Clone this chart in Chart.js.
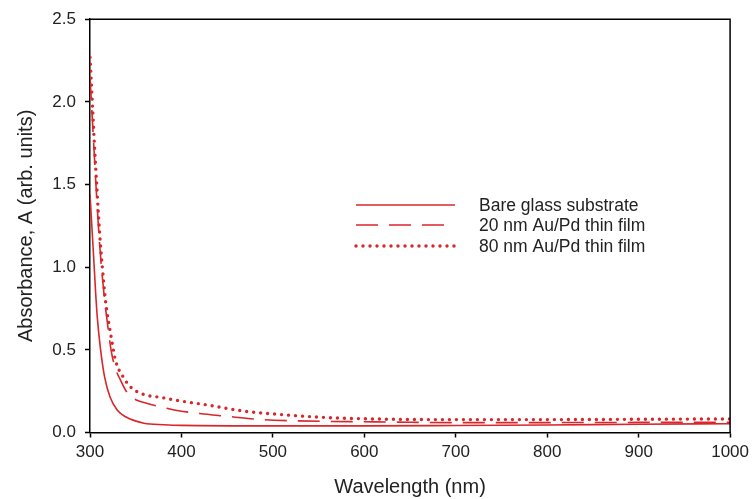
<!DOCTYPE html>
<html>
<head>
<meta charset="utf-8">
<script src="https://cdn.jsdelivr.net/npm/chart.js@4/dist/chart.umd.min.js"></script>
<style>
    html, body { margin: 0; padding: 0; background: #fff; }
    #wrap { width: 754px; height: 499px; position: relative; }
</style>
</head>
<body>
<div id="wrap"><canvas id="absChart"></canvas></div>
<script>
// Datos (longitud de onda en nm, absorbancia)
const seriesNames = ["Bare glass substrate", "20 nm Au/Pd thin film", "80 nm Au/Pd thin film"];

const bareX = [300, 302, 304, 306, 308, 311.7, 316, 321.9, 329.9, 339, 359, 381, 400, 500, 600, 700, 800, 900, 1000];
const bareY = [1.44, 1.25, 1.06, 0.86, 0.695, 0.495, 0.335, 0.215, 0.135, 0.095, 0.056, 0.047, 0.043, 0.040, 0.040, 0.042, 0.045, 0.05, 0.053];

const film20X = [300, 302, 304, 307, 310, 313, 316, 320, 323, 327, 333.5, 339, 345, 351.5, 360, 370, 380, 393.6, 420, 448, 485, 521, 560, 594, 650, 700, 800, 900, 1000];
const film20Y = [2.15, 1.95, 1.75, 1.45, 1.18, 0.97, 0.80, 0.62, 0.50, 0.40, 0.315, 0.255, 0.215, 0.195, 0.18, 0.165, 0.152, 0.135, 0.115, 0.099, 0.079, 0.071, 0.067, 0.065, 0.062, 0.06, 0.06, 0.061, 0.062];

const film80X = [300, 302.5, 304.7, 307.3, 310.6, 313.5, 317, 322.6, 328, 336.4, 344.5, 352, 362, 378, 394, 430, 466, 503, 557.6, 630, 700, 800, 900, 1000];
const film80Y = [2.27, 2.0, 1.755, 1.50, 1.20, 1.0, 0.795, 0.595, 0.435, 0.335, 0.275, 0.245, 0.225, 0.212, 0.195, 0.165, 0.131, 0.111, 0.091, 0.08, 0.078, 0.078, 0.08, 0.082];

const xTicks = [300, 400, 500, 600, 700, 800, 900, 1000];
const yTicks = [0.0, 0.5, 1.0, 1.5, 2.0, 2.5];

const rojo = "#d8262b";
const fuente = "'Liberation Sans', Arial, sans-serif";

function puntos(xs, ys) {
    return xs.map((x, i) => ({ x, y: ys[i] }));
}

// Marco superior/derecho y leyenda dibujada a mano
const marcoLeyenda = {
    id: "marcoLeyenda",
    afterDatasetsDraw(chart) {
        const { ctx, chartArea } = chart;
        ctx.save();
        ctx.strokeStyle = "#000";
        ctx.lineWidth = 1.5;
        ctx.beginPath();
        ctx.moveTo(chartArea.left, chartArea.top);
        ctx.lineTo(chartArea.right, chartArea.top);
        ctx.lineTo(chartArea.right, chartArea.bottom);
        ctx.stroke();

        const filas = [205, 225, 246];
        const finLinea = [455, 444, 455];
        chart.data.datasets.forEach((ds, i) => {
            const y = filas[i];
            ctx.strokeStyle = ds.borderColor;
            ctx.lineWidth = ds.borderWidth;
            ctx.lineCap = ds.borderCapStyle || "butt";
            ctx.setLineDash(ds.borderDash || []);
            ctx.beginPath();
            ctx.moveTo(356, y);
            ctx.lineTo(finLinea[i], y);
            ctx.stroke();
            ctx.setLineDash([]);
            ctx.fillStyle = "#222";
            ctx.font = "17.5px " + fuente;
            ctx.textBaseline = "middle";
            ctx.fillText(ds.label, 479, y + 1);
        });
        ctx.restore();
    }
};

new Chart(document.querySelector("#absChart"), {
    type: "line",
    data: {
        datasets: [
            {
                label: seriesNames[0],
                data: puntos(bareX, bareY),
                borderColor: rojo,
                borderWidth: 1.6,
                pointRadius: 0,
                cubicInterpolationMode: "monotone"
            },
            {
                label: seriesNames[1],
                data: puntos(film20X, film20Y),
                borderColor: rojo,
                borderWidth: 1.6,
                borderDash: [22, 11],
                pointRadius: 0,
                cubicInterpolationMode: "monotone"
            },
            {
                label: seriesNames[2],
                data: puntos(film80X, film80Y),
                borderColor: rojo,
                borderWidth: 3.4,
                borderDash: [0, 7],
                borderCapStyle: "round",
                pointRadius: 0,
                cubicInterpolationMode: "monotone"
            }
        ]
    },
    options: {
        responsive: true,
        maintainAspectRatio: false,
        animation: false,
        layout: { padding: { left: 0, top: 16, right: 23, bottom: 0 } },
        plugins: {
            legend: { display: false },
            tooltip: { enabled: false }
        },
        scales: {
            x: {
                type: "linear",
                min: 300,
                max: 1000,
                afterBuildTicks: (scale) => { scale.ticks = xTicks.map((v) => ({ value: v })); },
                afterFit: (scale) => { scale.height = 66.5; },
                ticks: {
                    color: "#222",
                    font: { family: fuente, size: 17 },
                    padding: 5,
                    callback: (v) => String(v)
                },
                grid: { drawOnChartArea: false, tickLength: 5, tickColor: "#000", tickWidth: 1.5 },
                border: { color: "#000", width: 1.5 },
                title: {
                    display: true,
                    text: "Wavelength (nm)",
                    color: "#222",
                    font: { family: fuente, size: 20 },
                    padding: { top: 4, bottom: 0 }
                }
            },
            y: {
                min: 0,
                max: 2.5,
                afterBuildTicks: (scale) => { scale.ticks = yTicks.map((v) => ({ value: v })); },
                afterFit: (scale) => { scale.width = 90; },
                ticks: {
                    color: "#222",
                    font: { family: fuente, size: 17 },
                    padding: 9,
                    callback: (v) => Number(v).toFixed(1)
                },
                grid: { drawOnChartArea: false, tickLength: 5, tickColor: "#000", tickWidth: 1.5 },
                border: { color: "#000", width: 1.5 },
                title: {
                    display: true,
                    text: "Absorbance, A (arb. units)",
                    color: "#222",
                    font: { family: fuente, size: 20 },
                    padding: { top: 14, bottom: 0 }
                }
            }
        }
    },
    plugins: [marcoLeyenda]
});
</script>
</body>
</html>
